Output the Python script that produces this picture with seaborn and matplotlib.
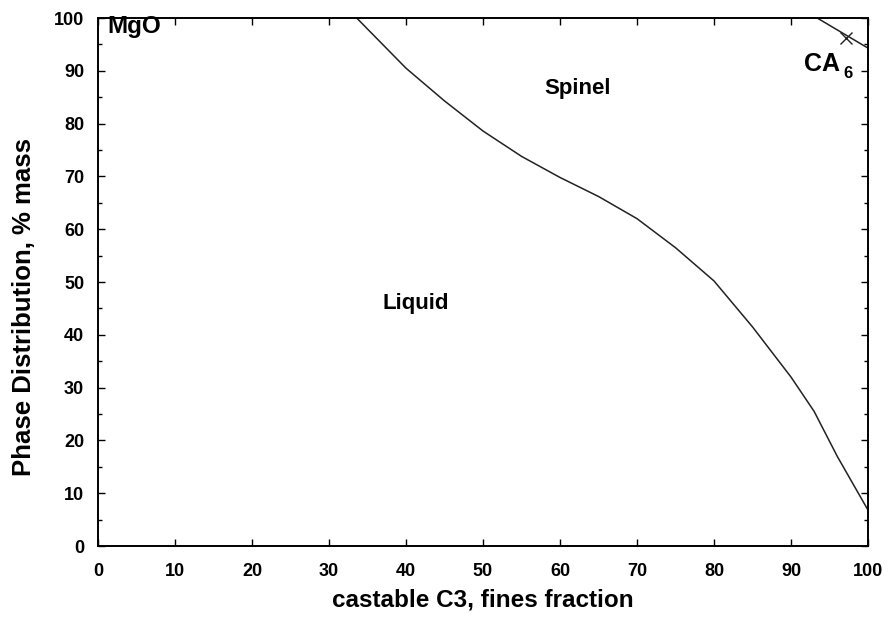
import pandas as pd
import matplotlib.pyplot as plt
import seaborn as sns
from matplotlib.ticker import MultipleLocator

# Liquid / Spinel boundary
fines = [33.6, 40, 45, 50, 55, 60, 65, 70, 75, 80, 85, 90, 93, 96, 100]
liquid_pct = [100, 90.5, 84.3, 78.6, 73.8, 69.8, 66.2, 62.0, 56.5, 50.2, 41.5, 32.0, 25.5, 17.0, 6.8]

# Spinel / CA6 boundary near the top right corner
ca6_fines = [93.4, 100]
ca6_pct = [100, 94.3]
ca6_mark_x = [97.2]
ca6_mark_y = [96.2]

df = pd.DataFrame({"fines": fines, "liquid": liquid_pct})
df_ca6 = pd.DataFrame({"fines": ca6_fines, "pct": ca6_pct})

sns.set_style("ticks")
plt.rcParams['font.family'] = ['Liberation Sans', 'DejaVu Sans']
plt.rcParams['font.weight'] = 'bold'
plt.rcParams['text.color'] = 'black'
plt.rcParams['axes.labelcolor'] = 'black'

fig = plt.figure(figsize=(8.89, 6.19), dpi=100)
ax = fig.add_axes([0.1102, 0.1179, 0.8662, 0.8530])

sns.lineplot(data=df, x="fines", y="liquid", color="#222222", linewidth=1.1, ax=ax)
sns.lineplot(data=df_ca6, x="fines", y="pct", color="#222222", linewidth=1.1, ax=ax)
ax.plot(ca6_mark_x, ca6_mark_y, marker='x', color="#222222", markersize=8, markeredgewidth=1)

ax.set_xlim(0, 100)
ax.set_ylim(0, 100)
ax.xaxis.set_major_locator(MultipleLocator(10))
ax.yaxis.set_major_locator(MultipleLocator(10))
ax.yaxis.set_minor_locator(MultipleLocator(5))
ax.tick_params(which='both', direction='in', top=True, right=True, width=1, colors='black')
ax.tick_params(which='major', length=5, labelsize=13)
ax.tick_params(axis='x', which='major', pad=12)
ax.tick_params(axis='y', which='major', pad=10)
ax.tick_params(which='minor', length=3)
for lab in ax.get_xticklabels() + ax.get_yticklabels():
    lab.set_fontweight('bold')
for sp in ax.spines.values():
    sp.set_linewidth(1.4)
    sp.set_color('black')

ax.set_xlabel("castable C3, fines fraction", fontsize=17.5, fontweight='bold', labelpad=6)
ax.set_ylabel("Phase Distribution, % mass", fontsize=18.5, fontweight='bold')
ax.yaxis.set_label_coords(-0.081, 0.453)

# phase field labels
ax.text(4.7, 98.3, "MgO", fontsize=17.5, fontweight='bold', ha='center', va='center')
ax.text(62.3, 86.7, "Spinel", fontsize=16, fontweight='bold', ha='center', va='center')
ax.text(41.3, 46, "Liquid", fontsize=16, fontweight='bold', ha='center', va='center')
ax.text(94.0, 91.3, "CA", fontsize=18, fontweight='bold', ha='center', va='center')
ax.text(97.4, 89.4, "6", fontsize=12, fontweight='bold', ha='center', va='center')

plt.savefig("out.png", dpi=100)
